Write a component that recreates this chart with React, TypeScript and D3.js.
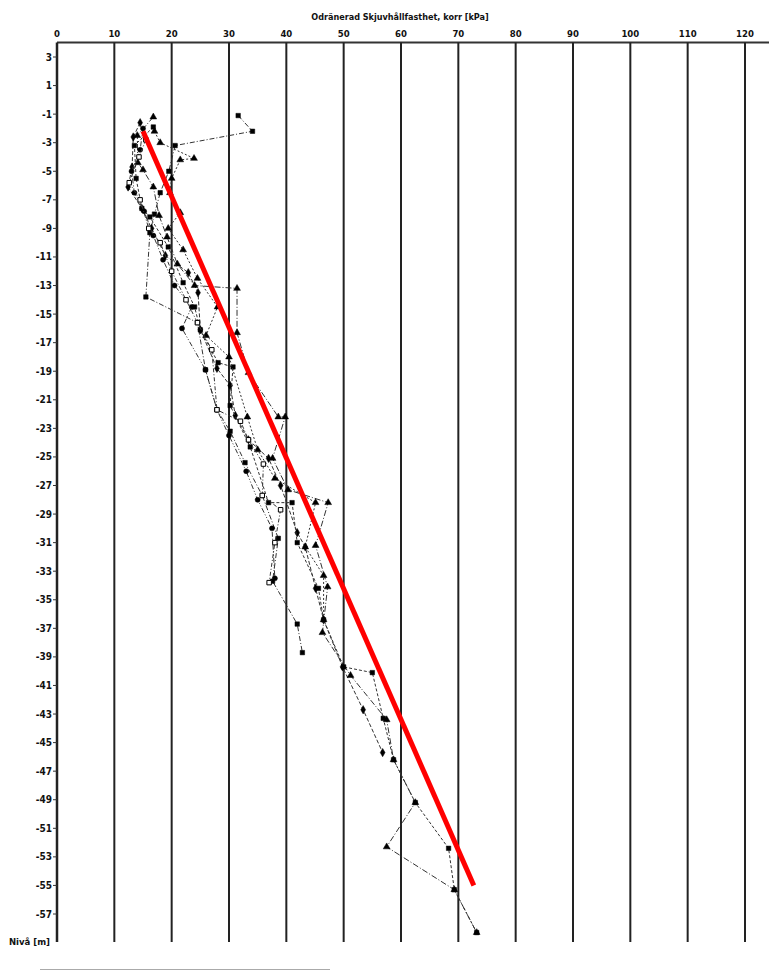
import React from "react";
import * as d3 from "d3";

const TITLE = "Odränerad Skjuvhållfasthet, korr [kPa]";
const Y_LABEL = "Nivå [m]";
const xTicks = [0, 10, 20, 30, 40, 50, 60, 70, 80, 90, 100, 110, 120];
const yTicks = [3, 1, -1, -3, -5, -7, -9, -11, -13, -15, -17, -19, -21, -23, -25, -27, -29, -31, -33, -35, -37, -39, -41, -43, -45, -47, -49, -51, -53, -55, -57];

const seriesA: [number, number][] = [[31.6,-1.1],[34.1,-2.2],[20.6,-3.2],[19.5,-5.0],[18.0,-6.5],[17.0,-8.0],[16.2,-9.3],[15.5,-13.8],[24.5,-15.6],[25.9,-18.9],[27.9,-21.7],[30.2,-23.2],[32.8,-25.4],[35.8,-27.7],[38.6,-30.7],[37.6,-33.7],[41.9,-36.7],[42.8,-38.7]];
const seriesB: [number, number][] = [[14.5,-1.6],[13.3,-2.6],[13.1,-4.7],[12.4,-6.1],[14.8,-7.6],[16.5,-9.0],[18.9,-10.9],[22.9,-12.1],[24.6,-13.5],[25.0,-16.1],[27.9,-18.8],[30.2,-20.0],[31.1,-22.1],[33.4,-23.8],[36.9,-25.1],[39.0,-27.0],[41.9,-30.3],[43.3,-31.3],[45.1,-34.2],[46.5,-36.4],[49.8,-39.7],[53.4,-42.7],[56.8,-45.7]];
const seriesC: [number, number][] = [[16.8,-1.2],[14.0,-2.5],[14.1,-4.4],[15.0,-4.9],[16.8,-6.1],[17.8,-8.1],[19.2,-9.6],[21.0,-11.5],[24.0,-13.0],[31.4,-13.2],[31.4,-16.3],[33.4,-19.1],[38.6,-22.2],[39.8,-22.2],[37.6,-25.1],[40.3,-27.3],[47.3,-28.2],[45.1,-31.2],[47.2,-34.1],[46.3,-37.3],[51.2,-40.3],[57.5,-43.4],[58.7,-46.2],[62.5,-49.2],[57.5,-52.3],[69.3,-55.3],[73.2,-58.3]];
const seriesD: [number, number][] = [[16.8,-1.9],[13.5,-3.2],[13.8,-5.5],[14.8,-7.6],[16.2,-8.2],[19.4,-10.3],[22.0,-12.8],[24.0,-14.5],[25.0,-16.1],[28.1,-18.4],[30.7,-18.7],[30.2,-21.4],[33.7,-24.3],[36.9,-28.2],[41.0,-28.2],[41.9,-31.0],[45.6,-34.2],[46.5,-36.4],[50.0,-39.7],[55.0,-40.1],[56.9,-43.3],[58.7,-46.2],[62.5,-49.2],[68.3,-52.4],[69.3,-55.3],[73.2,-58.3]];
const seriesE: [number, number][] = [[15.0,-2.0],[14.5,-3.5],[13.0,-5.0],[13.5,-6.5],[15.2,-7.8],[16.8,-9.5],[18.5,-11.2],[20.5,-13.0],[23.5,-14.5],[21.8,-16.0],[25.9,-18.9],[27.9,-21.7],[30.0,-23.5],[33.0,-26.0],[35.0,-28.0],[37.5,-30.0],[38.0,-33.5]];
const seriesF: [number, number][] = [[17.0,-2.2],[18.0,-3.0],[23.9,-4.1],[21.5,-4.2],[20.0,-5.5],[19.7,-6.5],[21.5,-7.9],[19.4,-9.0],[22.0,-10.5],[24.5,-12.5],[28.0,-14.5],[26.0,-16.5],[30.0,-18.0],[33.2,-22.2],[35.0,-24.5],[38.0,-26.5],[45.1,-28.2],[43.3,-31.3],[46.5,-33.3],[46.5,-36.4]];
const seriesG: [number, number][] = [[15.5,-2.8],[14.3,-4.0],[12.6,-5.8],[14.5,-7.0],[16.0,-9.0],[18.0,-10.0],[20.0,-12.0],[22.5,-14.0],[24.5,-15.6],[27.0,-17.5],[27.9,-21.7],[32.0,-22.5],[33.4,-23.8],[36.0,-25.5],[35.8,-27.7],[39.0,-28.7],[38.0,-31.0],[37.0,-33.8]];
const trendLine: [number, number][] = [[15.0, -2.2], [72.7, -55.0]];

const seriesList = [
  { data: seriesA, symbol: d3.symbolSquare, open: false, dash: "5,2,1,2" },
  { data: seriesB, symbol: d3.symbolDiamond, open: false, dash: "4,2" },
  { data: seriesC, symbol: d3.symbolTriangle, open: false, dash: "6,2,1,2" },
  { data: seriesD, symbol: d3.symbolSquare, open: false, dash: "3,2" },
  { data: seriesE, symbol: d3.symbolCircle, open: false, dash: "5,2,1,2,1,2" },
  { data: seriesF, symbol: d3.symbolTriangle, open: false, dash: "2,2" },
  { data: seriesG, symbol: d3.symbolSquare, open: true, dash: "4,2,1,2" },
];

export default function App() {
  const W = 769, H = 971;
  const x = d3.scaleLinear().domain([0, 120]).range([57, 745]);
  const y = d3.scaleLinear().domain([3, -57]).range([57, 914]);
  const yTop = 42.5, yBottom = 942;
  const line = d3.line<[number, number]>().x(d => x(d[0])).y(d => y(d[1]));
  const font = "'DejaVu Sans Condensed', 'DejaVu Sans', sans-serif";

  return (
    <svg width={W} height={H} style={{ position: "absolute", left: 0, top: 0, background: "#fff" }} fontFamily={font}>
      <rect x={0} y={0} width={W} height={H} fill="#fff" />
      <text x={400} y={20} fontSize={9} fontWeight="bold" textAnchor="middle" fill="#111">{TITLE}</text>
      <line x1={x(0)} x2={W} y1={yTop} y2={yTop} stroke="#333" strokeWidth={2} />
      {xTicks.map(t => (
        <g key={"xt" + t}>
          <line x1={x(t)} x2={x(t)} y1={yTop} y2={yBottom} stroke="#222" strokeWidth={t === 0 ? 2.5 : 2} />
          <text x={x(t)} y={37} fontSize={9.5} fontWeight="bold" textAnchor="middle" fill="#111">{t}</text>
        </g>
      ))}
      {yTicks.map(t => (
        <g key={"yt" + t}>
          <line x1={x(0) - 4} x2={x(0)} y1={y(t)} y2={y(t)} stroke="#333" strokeWidth={1} />
          <text x={x(0) - 5} y={y(t) + 3.5} fontSize={10} fontWeight="bold" textAnchor="end" fill="#111">{t}</text>
        </g>
      ))}
      <text x={50} y={945} fontSize={9.5} fontWeight="bold" textAnchor="end" fill="#111">{Y_LABEL}</text>
      {seriesList.map((s, i) => (
        <g key={"s" + i}>
          <path d={line(s.data) || ""} fill="none" stroke="#333" strokeWidth={1} strokeDasharray={s.dash} />
          {s.data.map((d, j) => (
            <path key={j} d={d3.symbol().type(s.symbol).size(20)() || ""}
              transform={`translate(${x(d[0])},${y(d[1])})`}
              fill={s.open ? "#fff" : "#000"} stroke="#000" strokeWidth={s.open ? 1 : 0.5} />
          ))}
        </g>
      ))}
      <path d={line(trendLine) || ""} fill="none" stroke="#ff0000" strokeWidth={5} />
      <line x1={40} x2={330} y1={969.5} y2={969.5} stroke="#aaa" strokeWidth={1} />
    </svg>
  );
}
